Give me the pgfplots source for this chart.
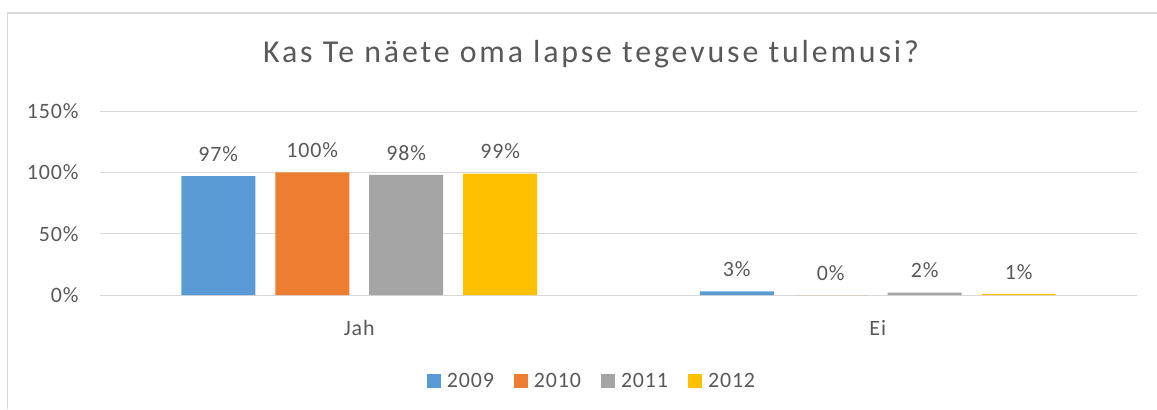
\documentclass[border=0pt]{standalone}
\usepackage{pgfplots}
\pgfplotsset{compat=1.18}
\usepackage{fontspec}
\setmainfont{Carlito}[LetterSpace=4]
\newfontfamily\titlefont{Carlito}[LetterSpace=9]
\definecolor{txt}{HTML}{595959}
\definecolor{grd}{HTML}{D9D9D9}
\definecolor{cA}{HTML}{5B9BD5}
\definecolor{cB}{HTML}{ED7D31}
\definecolor{cC}{HTML}{A5A5A5}
\definecolor{cD}{HTML}{FFC000}
\begin{document}
\begin{tikzpicture}[x=1bp,y=1bp]
\useasboundingbox (0,0) rectangle (1157,409);
\draw[grd, line width=1.5bp] (7.5,0) -- (7.5,396) -- (1157,396);
\node[txt, font=\titlefont\fontsize{32}{35}\selectfont, anchor=base] at (591,347) {Kas Te näete oma lapse tegevuse tulemusi?};
\begin{axis}[
  at={(100bp,114bp)}, anchor=south west,
  scale only axis, width=1037bp, height=184bp,
  xmin=-0.5, xmax=1.5, ymin=0, ymax=150,
  ybar, bar width=0.1427, 
  xtick={0,1}, xticklabels={Jah,Ei},
  ytick={0,50,100,150},
  yticklabel={\pgfmathprintnumber{\tick}\%},
  /pgf/number format/assume math mode=true,
  ymajorgrids, major grid style={grd, line width=1bp},
  axis line style={draw=none},
  major tick length=0,
  tick label style={txt, font=\fontsize{22}{24}\selectfont},
  xticklabel style={yshift=-22bp},
  yticklabel style={xshift=-18bp},
  nodes near coords={\pgfmathprintnumber{\pgfplotspointmeta}\%},
  nodes near coords style={txt, font=\fontsize{22}{24}\selectfont, yshift=11bp},
  legend style={at={(492bp,-86bp)}, anchor=center, draw=none, legend columns=4,
    font=\fontsize{22}{24}\selectfont, text=txt,
    /tikz/every odd column/.append style={column sep=4bp},
    /tikz/every even column/.append style={column sep=18bp}},
  legend image code/.code={\fill[#1] (0bp,-7bp) rectangle (14bp,7bp);},
]
\addplot[draw=none, fill=cA, bar shift=-0.2719] coordinates {(0,97) (1,3)};
\addplot[draw=none, fill=cB, bar shift=-0.0906] coordinates {(0,100) (1,0)};
\addplot[draw=none, fill=cC, bar shift=0.0906] coordinates {(0,98) (1,2)};
\addplot[draw=none, fill=cD, bar shift=0.2719] coordinates {(0,99) (1,1)};
\legend{2009,2010,2011,2012}
\end{axis}
\end{tikzpicture}
\end{document}
